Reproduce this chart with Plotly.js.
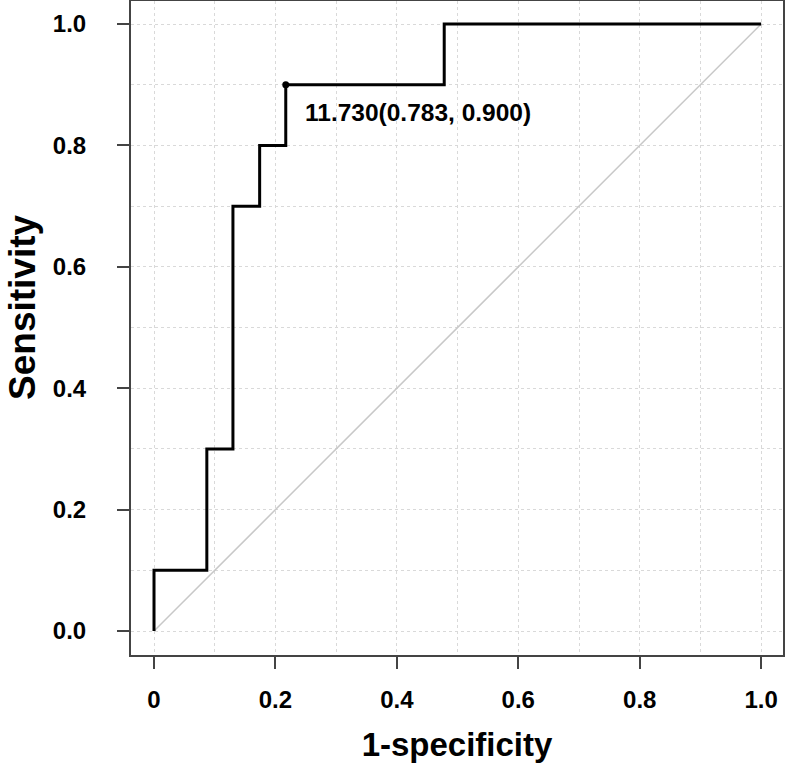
<!DOCTYPE html>
<html>
<head>
<meta charset="utf-8">
<script src="https://cdn.plot.ly/plotly-3.0.1.min.js"></script>
<style>html,body{margin:0;padding:0;background:#fff;}#chart{width:786px;height:765px;}</style>
</head>
<body>
<div id="chart"></div>
<script>
// ROC step points (line drawn with vertical-then-horizontal steps)
var fpr = [0, 0.087, 0.130, 0.174, 0.217, 0.478, 1.0];
var tpr = [0, 0.1, 0.3, 0.7, 0.8, 0.9, 1.0];
// Reference diagonal
var diagX = [0, 1];
var diagY = [0, 1];
// Best cut-off point
var cutX = [0.217];
var cutY = [0.9];
var cutLabel = "11.730(0.783, 0.900)";
// Tick labels
var xTickVals = [0, 0.2, 0.4, 0.6, 0.8, 1.0];
var xTickText = ["0", "0.2", "0.4", "0.6", "0.8", "1.0"];
var yTickVals = [0, 0.2, 0.4, 0.6, 0.8, 1.0];
var yTickText = ["0.0", "0.2", "0.4", "0.6", "0.8", "1.0"];

var FONT = "Liberation Sans, Arial, sans-serif";

var traces = [
  {x: diagX, y: diagY, mode: "lines", line: {color: "#c8c8c8", width: 1.5}, hoverinfo: "skip", showlegend: false},
  {x: fpr, y: tpr, mode: "lines", line: {color: "#000", width: 3, shape: "vh"}, showlegend: false},
  {x: cutX, y: cutY, mode: "markers", marker: {color: "#000", size: 7}, showlegend: false}
];

var gridCommon = {showgrid: true, gridcolor: "#d9d9d9", gridwidth: 1, griddash: "dot"};

var layout = {
  width: 786, height: 765,
  margin: {l: 131, r: 3, t: 1, b: 110, pad: 0},
  paper_bgcolor: "#fff", plot_bgcolor: "#fff",
  font: {family: FONT, color: "#000"},
  showlegend: false,
  xaxis: Object.assign({
    range: [-0.0379, 1.036], zeroline: false,
    tickmode: "array", tickvals: xTickVals, ticktext: xTickText,
    ticks: "outside", ticklen: 12, tickwidth: 2, tickcolor: "#444",
    showline: true, linecolor: "#444", linewidth: 2, mirror: true,
    tickfont: {family: FONT, size: 24, color: "#000", weight: "bold"},
    ticklabelstandoff: 10,
    minor: {dtick: 0.1, tick0: 0, showgrid: true, gridcolor: "#d9d9d9", gridwidth: 1, griddash: "dot", ticks: ""},
    title: {text: "<b>1-specificity</b>", font: {family: FONT, size: 33, color: "#000"}, standoff: 21}
  }, gridCommon),
  yaxis: Object.assign({
    range: [-0.0395, 1.038], zeroline: false,
    tickmode: "array", tickvals: yTickVals, ticktext: yTickText,
    ticks: "outside", ticklen: 12, tickwidth: 2, tickcolor: "#444",
    showline: true, linecolor: "#444", linewidth: 2, mirror: true,
    tickfont: {family: FONT, size: 24, color: "#000", weight: "bold"},
    ticklabelstandoff: 26,
    minor: {dtick: 0.1, tick0: 0, showgrid: true, gridcolor: "#d9d9d9", gridwidth: 1, griddash: "dot", ticks: ""},
    title: {text: "&nbsp;&nbsp;&nbsp;&nbsp;<b>Sensitivity</b>", font: {family: FONT, size: 37, color: "#000"}, standoff: 6}
  }, gridCommon),
  annotations: [{
    x: 0.245, y: 0.855, xref: "x", yref: "y",
    text: "<b>" + cutLabel + "</b>", showarrow: false,
    xanchor: "left", yanchor: "middle",
    font: {family: FONT, size: 24.5, color: "#000"}
  }]
};

Plotly.newPlot("chart", traces, layout, {displayModeBar: false, staticPlot: true});
</script>
</body>
</html>
